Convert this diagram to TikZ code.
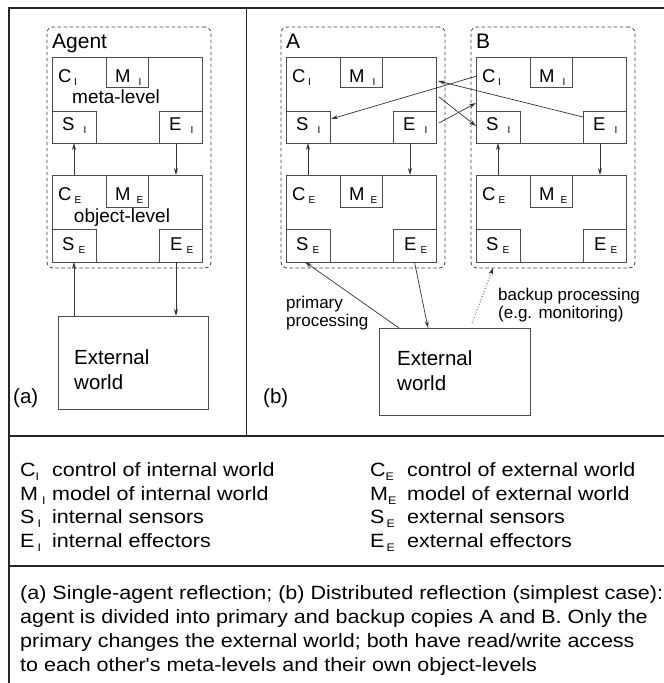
\documentclass[tikz,border=0pt]{standalone}
\usepackage{fontspec}
\setmainfont{Liberation Sans}
\newfontfamily\capfont[FakeStretch=1.12]{Liberation Sans}
\usetikzlibrary{arrows.meta}
\newcommand\lbsub[1]{\raisebox{-3pt}{\fontsize{10}{10}\selectfont #1}}
\newcommand\lgsub[1]{\raisebox{-4pt}{\fontsize{11}{11}\selectfont #1}}
\tikzset{
  frame/.style={draw=black!85, line width=1.3pt},
  box/.style={draw=black!70, line width=0.9pt, inner sep=0pt, outer sep=0pt, anchor=north west},
  dashbox/.style={draw=black!75, line width=0.8pt, dash pattern=on 3.5pt off 2.5pt, rounded corners=6pt, inner sep=0pt, outer sep=0pt, anchor=north west},
  arr/.style={draw=black!80, line width=0.7pt, -{Stealth[length=7pt,width=4pt]}},
  dotarr/.style={draw=black!80, line width=0.8pt, dotted, -{Stealth[length=7pt,width=4.5pt,open]}},
  lbl/.style={inner sep=0pt, anchor=base west, font=\fontsize{18.5}{20}\selectfont},
  ttl/.style={inner sep=0pt, anchor=base west, font=\fontsize{21}{25}\selectfont},
  bigtxt/.style={inner sep=0pt, anchor=north west, align=left, font=\fontsize{20.5}{25}\selectfont},
  smalltxt/.style={inner sep=0pt, anchor=north west, align=left, font=\fontsize{17}{18.5}\selectfont},
  legtxt/.style={inner sep=0pt, anchor=base west, font=\capfont\fontsize{19.2}{21}\selectfont},
  captxt/.style={inner sep=0pt, anchor=north west, align=left, font=\capfont\fontsize{19.2}{24}\selectfont},
}
% #1 prefix, #2 x offset, #3 title
\newcommand\agentbox[3]{%
  \node[dashbox, minimum width=164pt, minimum height=241pt] (#1dash) at (47+#2,27) {};
  \node[ttl] (#1title) at (52+#2,48) {#3};
  \node[box, minimum width=150pt, minimum height=86pt] (#1meta) at (52+#2,57) {};
  \node[box, minimum width=42pt, minimum height=30pt] (#1MI) at (106+#2,57) {};
  \node[box, minimum width=44pt, minimum height=32pt] (#1SI) at (52+#2,111) {};
  \node[box, minimum width=43pt, minimum height=32pt] (#1EI) at (159+#2,111) {};
  \node[box, minimum width=150pt, minimum height=87pt] (#1obj) at (52+#2,175) {};
  \node[box, minimum width=42pt, minimum height=32pt] (#1ME) at (106+#2,175) {};
  \node[box, minimum width=44pt, minimum height=33pt] (#1SE) at (52+#2,229) {};
  \node[box, minimum width=43pt, minimum height=33pt] (#1EE) at (159+#2,229) {};
  \node[lbl] (#1CIl) at (58+#2,82) {C\hspace{2.5pt}\lbsub{I}};
  \node[lbl] (#1MIl) at (115+#2,82) {M\hspace{8pt}\lbsub{I}};
  \node[lbl] (#1SIl) at (62+#2,130) {S\hspace{9pt}\lbsub{I}};
  \node[lbl] (#1EIl) at (169+#2,130) {E\hspace{9pt}\lbsub{I}};
  \node[lbl] (#1CEl) at (58+#2,200) {C\hspace{3pt}\lbsub{E}};
  \node[lbl] (#1MEl) at (115+#2,200) {M\hspace{6pt}\lbsub{E}};
  \node[lbl] (#1SEl) at (62+#2,250) {S\hspace{4pt}\lbsub{E}};
  \node[lbl] (#1EEl) at (170+#2,250) {E\hspace{4pt}\lbsub{E}};
  \draw[arr] (#1SI.south |- #1obj.north) -- (#1SI.south);
  \draw[arr] ([xshift=-4.5pt]#1EI.south) -- ([xshift=-4.5pt]#1EI.south |- #1obj.north);
}
\begin{document}
\begin{tikzpicture}[x=1pt,y=-1pt]
\useasboundingbox (0,0) rectangle (664,683);
% frame
\coordinate (ftl) at (9,8);
\coordinate (ftr) at (670,8);
\coordinate (fbl) at (9,690);
\coordinate (dtop) at (246.5,8);
\coordinate (dbot) at (246.5,436);
\coordinate (h1l) at (9,436);
\coordinate (h1r) at (670,436);
\coordinate (h2l) at (9,566);
\coordinate (h2r) at (670,566);
\draw[frame] (ftr) -- (ftl) -- (fbl);
\draw[frame] (dtop) -- (dbot);
\draw[frame] (h1l) -- (h1r);
\draw[frame] (h2l) -- (h2r);

% ---------- panel (a)
\agentbox{a}{0}{Agent}
\node[inner sep=0pt, anchor=base, font=\fontsize{19}{22}\selectfont] (ametatxt) at (116,103) {meta-level};
\node[inner sep=0pt, anchor=base, font=\fontsize{19}{22}\selectfont] (aobjtxt) at (122,222) {object-level};
\node[box, minimum width=150pt, minimum height=93pt] (aworld) at (58,316) {};
\node[bigtxt] (aworldtxt) at (74,349) {External\\world};
\draw[arr] (aSE.south |- aworld.north) -- (aSE.south);
\draw[arr] ([xshift=-4.5pt]aEE.south) -- ([xshift=-4.5pt]aEE.south |- aworld.north);
\node[inner sep=0pt, anchor=base west, font=\fontsize{20.5}{25}\selectfont] (alab) at (13,403) {(a)};

% ---------- panel (b)
\agentbox{A}{234}{A}
\agentbox{B}{424}{B}
% cross connections between meta-levels
\draw[arr] ([xshift=1pt,yshift=-19pt]Bmeta.north west) -- ([xshift=1pt,yshift=8pt]ASI.east);
\draw[arr] ([yshift=-6pt]BEI.north west) -- ([xshift=2pt,yshift=-24pt]Ameta.north east);
\draw[arr] ([xshift=3pt,yshift=-12pt]AEI.north east) -- ([yshift=-46pt]Bmeta.north west);
\draw[arr] ([xshift=3pt,yshift=-40pt]Ameta.north east) -- ([yshift=-15pt]BSI.north west);

\node[box, minimum width=151pt, minimum height=87pt] (bworld) at (379,328) {};
\node[bigtxt] (bworldtxt) at (397,350.5) {External\\world};
\draw[arr] ([xshift=20pt]bworld.north west) -- ([xshift=-3pt]ASE.south);
\draw[arr] (AEE.south) -- ([xshift=49pt]bworld.north west);
\coordinate (dotstart) at (472,323);
\draw[dotarr] (dotstart) -- ([xshift=22pt]Bdash.south west);
\node[smalltxt] (primtxt) at (286,295.8) {primary\\processing};
\node[smalltxt] (backtxt) at (498,287.8) {backup processing\\(e.g. monitoring)};
\node[inner sep=0pt, anchor=base west, font=\fontsize{20.5}{25}\selectfont] (blab) at (263,403) {(b)};

% ---------- legend
\node[legtxt] (l1s) at (20,476.5) {C\lgsub{I}};
\node[legtxt] (l1t) at (52,476.5) {control of internal world};
\node[legtxt] (l2s) at (20,500) {M\hspace{4pt}\lgsub{I}};
\node[legtxt] (l2t) at (52,500) {model of internal world};
\node[legtxt] (l3s) at (20,523.5) {S\hspace{3pt}\lgsub{I}};
\node[legtxt] (l3t) at (52,523.5) {internal sensors};
\node[legtxt] (l4s) at (20,547) {E\hspace{3pt}\lgsub{I}};
\node[legtxt] (l4t) at (52,547) {internal effectors};
\node[legtxt] (r1s) at (370,476.5) {C\lgsub{E}};
\node[legtxt] (r1t) at (407,476.5) {control of external world};
\node[legtxt] (r2s) at (370,500) {M\lgsub{E}};
\node[legtxt] (r2t) at (407,500) {model of external world};
\node[legtxt] (r3s) at (370,523.5) {S\hspace{2pt}\lgsub{E}};
\node[legtxt] (r3t) at (407,523.5) {external sensors};
\node[legtxt] (r4s) at (370,547) {E\hspace{2pt}\lgsub{E}};
\node[legtxt] (r4t) at (407,547) {external effectors};

% ---------- caption
\node[captxt] (caption) at (20,585) {(a) Single-agent reflection; (b) Distributed reflection (simplest case):\\
agent is divided into primary and backup copies A and B. Only the\\
primary changes the external world; both have read/write access\\
to each other's meta-levels and their own object-levels};
\end{tikzpicture}
\end{document}
